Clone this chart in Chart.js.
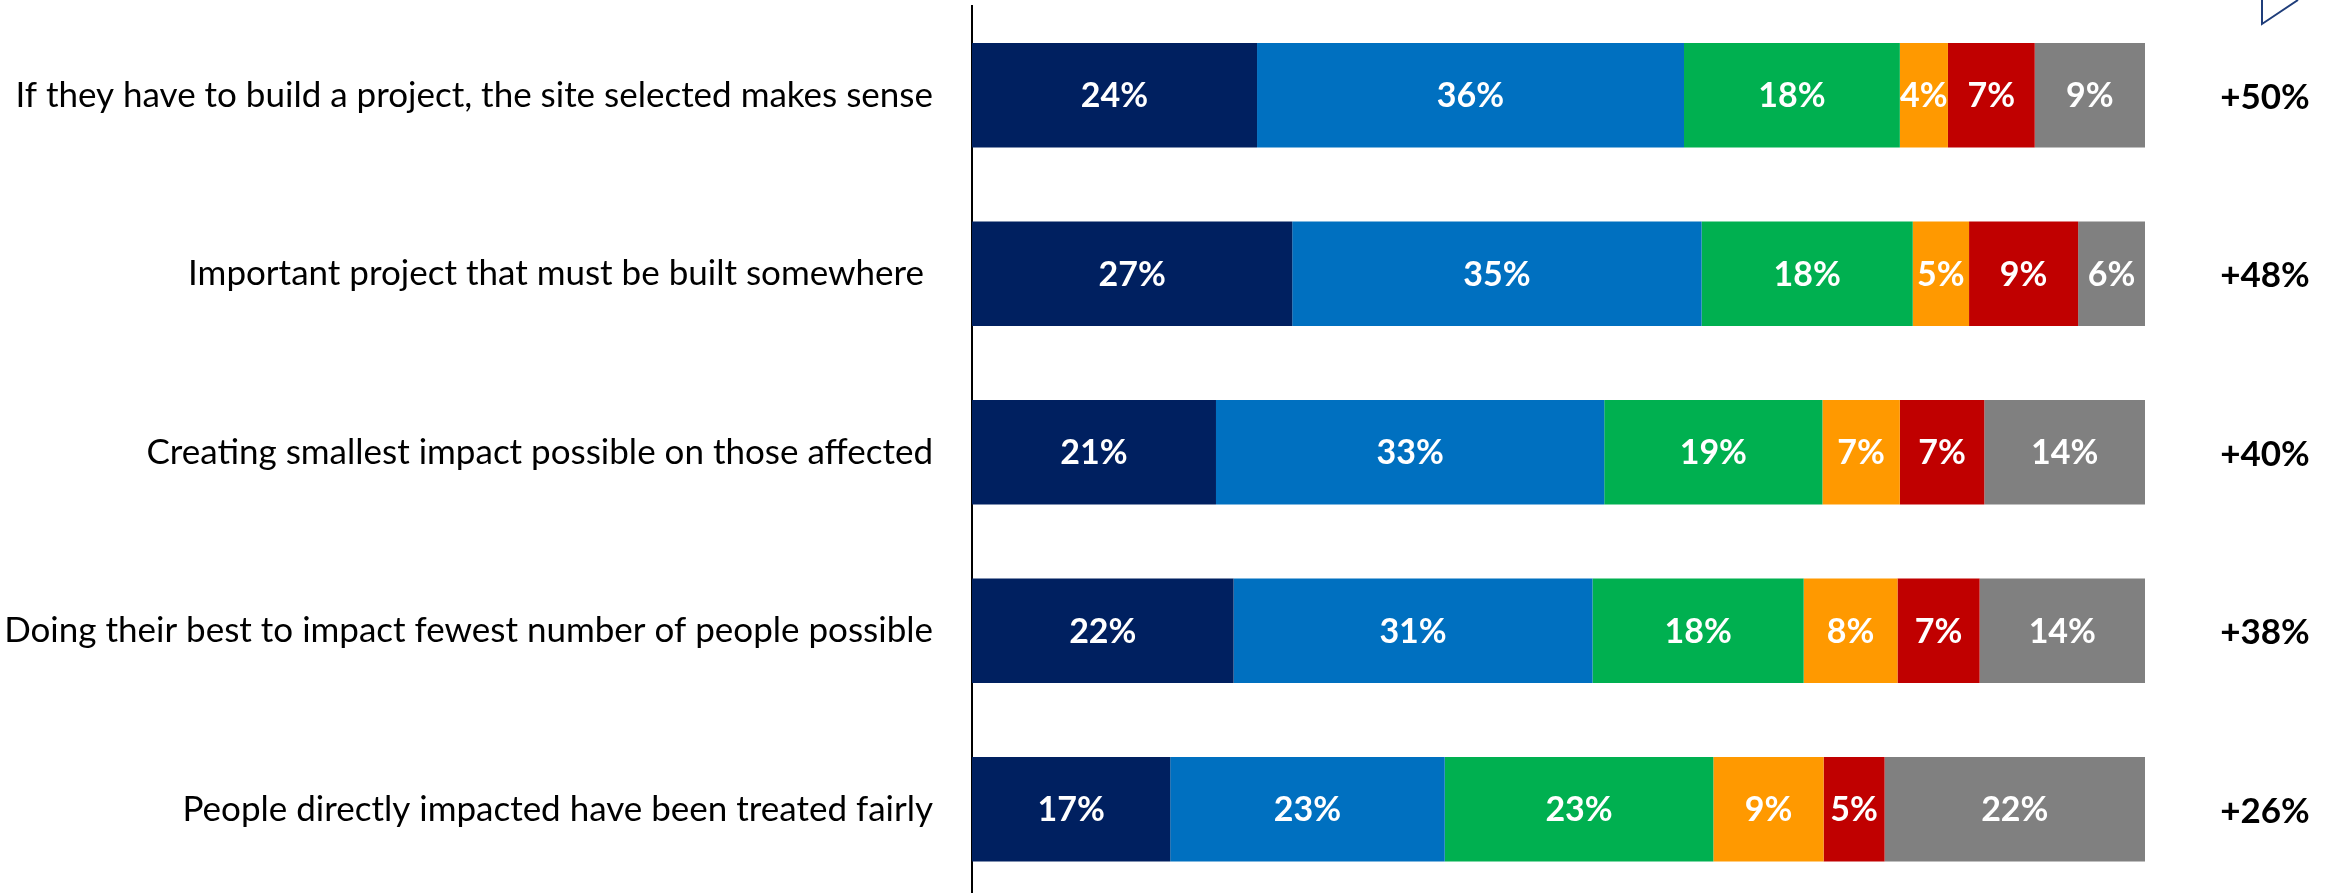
<!DOCTYPE html>
<html>
<head>
<meta charset="utf-8">
<title>Project perception</title>
<script src="https://cdn.jsdelivr.net/npm/chart.js@4.4.1/dist/chart.umd.min.js"></script>
<style>
  html, body { margin: 0; padding: 0; background: #ffffff; overflow: hidden; }
  #wrap { position: relative; width: 2331px; height: 900px; }
</style>
</head>
<body>
<div id="wrap"><canvas id="perceptionChart"></canvas></div>
<script>
// y축 항목(질문)
const categories = [
  'If they have to build a project, the site selected makes sense',
  'Important project that must be built somewhere ',
  'Creating smallest impact possible on those affected',
  'Doing their best to impact fewest number of people possible',
  'People directly impacted have been treated fairly'
];

// 응답 비율 (막대 폭에서 읽은 값, %)
const stronglyAgree    = [24.3, 27.3, 20.8, 22.3, 16.9];
const somewhatAgree    = [36.4, 34.9, 33.1, 30.6, 23.4];
const neutral          = [18.4, 18.0, 18.6, 18.0, 22.9];
const somewhatDisagree = [4.1, 4.8, 6.6, 8.0, 9.4];
const stronglyDisagree = [7.4, 9.3, 7.2, 7.0, 5.2];
const dontKnow         = [9.4, 5.7, 13.7, 14.1, 22.2];

// 오른쪽 순 점수
const netLabels = ['+50%', '+48%', '+40%', '+38%', '+26%'];

const segFont = 'bold 34px Lato, "Open Sans", sans-serif';

// 막대 안 % 표시
const segmentLabels = {
  id: 'segmentLabels',
  afterDatasetsDraw(chart) {
    const ctx = chart.ctx;
    ctx.save();
    ctx.font = segFont;
    ctx.fillStyle = '#ffffff';
    ctx.textAlign = 'center';
    ctx.textBaseline = 'middle';
    chart.data.datasets.forEach((ds, di) => {
      chart.getDatasetMeta(di).data.forEach((bar, i) => {
        const p = bar.getProps(['x', 'y', 'base'], true);
        ctx.fillText(Math.round(ds.data[i]) + '%', (p.x + p.base) / 2, p.y + 1);
      });
    });
    ctx.restore();
  }
};

// 오른쪽 순 점수 표시
const netScore = {
  id: 'netScore',
  afterDraw(chart) {
    const ctx = chart.ctx;
    const yScale = chart.scales.y;
    ctx.save();
    ctx.font = 'bold 35px Lato, "Open Sans", sans-serif';
    ctx.fillStyle = '#000000';
    ctx.textAlign = 'center';
    ctx.textBaseline = 'middle';
    netLabels.forEach((t, i) => {
      ctx.fillText(t, chart.chartArea.right + 120, yScale.getPixelForValue(i) + 2);
    });
    // 오른쪽 위 잘린 로고 조각
    ctx.strokeStyle = '#1f3d7a';
    ctx.lineWidth = 2;
    ctx.beginPath();
    ctx.moveTo(2262, 0);
    ctx.lineTo(2262, 24);
    ctx.lineTo(2298, 0);
    ctx.stroke();
    ctx.restore();
  }
};

const colors = ['#002060', '#0070c0', '#00b050', '#ff9900', '#c00000', '#808080'];
const names = ['Strongly agree', 'Somewhat agree', 'Neutral', 'Somewhat disagree', 'Strongly disagree', "Don't know"];
const series = [stronglyAgree, somewhatAgree, neutral, somewhatDisagree, stronglyDisagree, dontKnow];

const ChartA = document.getElementById('perceptionChart');
const perceptionChart = new Chart(ChartA, {
  type: 'bar',
  data: {
    labels: categories,
    datasets: series.map((d, i) => ({
      label: names[i],
      data: d,
      backgroundColor: colors[i],
      borderWidth: 0,
      categoryPercentage: 1,
      barPercentage: 0.585
    }))
  },
  options: {
    indexAxis: 'y',
    responsive: true,
    maintainAspectRatio: false,
    animation: false,
    layout: {
      padding: { top: 6, right: 186, bottom: 1.5, left: 0 }
    },
    scales: {
      x: {
        stacked: true,
        min: 0,
        max: 100,
        display: false
      },
      y: {
        stacked: true,
        grid: { display: false, drawTicks: false },
        border: { display: true, color: '#000000', width: 2 },
        ticks: {
          color: '#000000',
          padding: 39,
          font: { family: 'Lato, "Open Sans", sans-serif', size: 35 }
        },
        afterFit(scale) {
          scale.width = 972;
          scale.paddingTop = 0;
          scale.paddingBottom = 0;
        }
      }
    },
    plugins: {
      legend: { display: false },
      tooltip: { enabled: false }
    }
  },
  plugins: [segmentLabels, netScore]
});
</script>
</body>
</html>
